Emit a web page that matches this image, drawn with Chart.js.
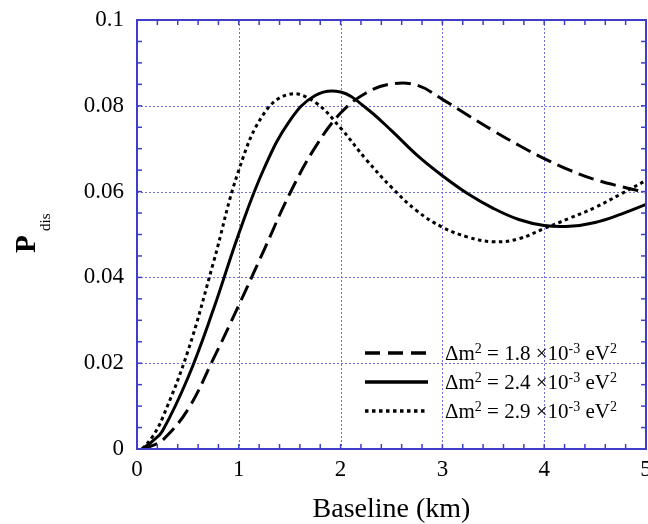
<!DOCTYPE html>
<html>
<head>
<meta charset="utf-8">
<script src="https://cdn.jsdelivr.net/npm/chart.js@4.4.1/dist/chart.umd.min.js"></script>
<style>
  html, body { margin: 0; padding: 0; background: #fff; }
  canvas { display: block; }
</style>
</head>
<body>
<canvas id="cnv" width="648" height="524"></canvas>
<script>
// ---- data ----
const baseline = [0.05, 0.15, 0.25, 0.5, 0.75, 1.0, 1.25, 1.5, 1.75, 2.0, 2.25, 2.5, 2.75, 3.0, 3.25, 3.5, 3.75, 4.0, 4.25, 4.5, 4.75, 5.0];
const pDis18 = [0, 0.0008, 0.002, 0.0092, 0.021, 0.0335, 0.0465, 0.0595, 0.0703, 0.0783, 0.083, 0.0851, 0.0848, 0.0815, 0.0778, 0.0742, 0.0708, 0.0677, 0.065, 0.0628, 0.0612, 0.0598];
const pDis24 = [0, 0.0018, 0.0042, 0.0166, 0.0325, 0.0502, 0.0655, 0.0765, 0.0824, 0.0832, 0.0795, 0.0742, 0.0685, 0.0637, 0.0595, 0.0561, 0.0535, 0.0521, 0.0519, 0.0528, 0.0547, 0.057];
const pDis29 = [0, 0.0028, 0.0072, 0.0228, 0.0434, 0.065, 0.0783, 0.0827, 0.0808, 0.0748, 0.0675, 0.061, 0.0555, 0.0517, 0.0494, 0.0483, 0.049, 0.0514, 0.0538, 0.0563, 0.0594, 0.0626];
const seriesNames = ['1.8', '2.4', '2.9'];
const xTicks = [0, 1, 2, 3, 4, 5];
const yTicks = [0, 0.02, 0.04, 0.06, 0.08, 0.1];

const SERIF = '"Liberation Serif", "DejaVu Serif", serif';
const FRAME = 'rgb(62,62,200)';
const GRID = 'rgb(110,110,225)';
const dashes = [[16, 7], [], [3.5, 3.5]];

const toPts = ys => baseline.map((x, i) => ({ x, y: ys[i] }));

const datasets = [pDis18, pDis24, pDis29].map((ys, i) => ({
  label: seriesNames[i],
  data: toPts(ys),
  borderColor: '#000',
  borderWidth: 3,
  borderDash: dashes[i],
  pointRadius: 0,
  fill: false,
  tension: 0.4
}));

// ---- frame, grid, minor ticks, titles, legend ----
const decor = {
  id: 'decor',
  beforeDatasetsDraw(chart) {
    const { ctx, chartArea: a, scales: { x, y } } = chart;
    ctx.save();
    ctx.strokeStyle = GRID; ctx.lineWidth = 1; ctx.setLineDash([2, 2]);
    xTicks.slice(1, -1).forEach(v => {
      const px = Math.round(x.getPixelForValue(v)) + 0.5;
      ctx.beginPath(); ctx.moveTo(px, a.top); ctx.lineTo(px, a.bottom); ctx.stroke();
    });
    yTicks.slice(1, -1).forEach(v => {
      const py = Math.round(y.getPixelForValue(v)) + 0.5;
      ctx.beginPath(); ctx.moveTo(a.left, py); ctx.lineTo(a.right, py); ctx.stroke();
    });
    ctx.restore();
  },
  afterDraw(chart) {
    const { ctx, chartArea: a, scales: { x, y } } = chart;
    ctx.save();
    // minor ticks, all four sides, pointing inward
    ctx.strokeStyle = FRAME; ctx.lineWidth = 1.5;
    for (let v = 0.2; v < 5; v += 0.2) {
      const px = x.getPixelForValue(v);
      ctx.beginPath(); ctx.moveTo(px, a.bottom); ctx.lineTo(px, a.bottom - 5); ctx.stroke();
      ctx.beginPath(); ctx.moveTo(px, a.top); ctx.lineTo(px, a.top + 5); ctx.stroke();
    }
    for (let v = 0.005; v < 0.1; v += 0.005) {
      const py = y.getPixelForValue(v);
      ctx.beginPath(); ctx.moveTo(a.left, py); ctx.lineTo(a.left + 5, py); ctx.stroke();
      ctx.beginPath(); ctx.moveTo(a.right, py); ctx.lineTo(a.right - 5, py); ctx.stroke();
    }
    // frame
    ctx.lineWidth = 2;
    ctx.strokeRect(a.left, a.top, a.right - a.left, a.bottom - a.top);

    // axis titles
    ctx.fillStyle = '#000';
    ctx.textAlign = 'center'; ctx.textBaseline = 'alphabetic';
    ctx.font = '28px ' + SERIF;
    ctx.fillText('Baseline (km)', (a.left + a.right) / 2, 517);

    ctx.save();
    ctx.translate(35, 253);
    ctx.rotate(-Math.PI / 2);
    ctx.textAlign = 'left';
    ctx.font = 'bold 29px ' + SERIF;
    ctx.fillText('P', 0, 0);
    ctx.font = '15px ' + SERIF;
    ctx.fillText('dis', 22, 15);
    ctx.restore();

    // legend
    const rows = [353, 382, 411];
    rows.forEach((ly, i) => {
      ctx.strokeStyle = '#000'; ctx.lineWidth = 3.5;
      ctx.setLineDash(i === 0 ? [15, 8] : i === 2 ? [3.5, 3.5] : []);
      ctx.beginPath(); ctx.moveTo(365, ly); ctx.lineTo(428, ly); ctx.stroke();
      ctx.setLineDash([]);
      let tx = 445;
      const base = ly + 7;
      const parts = [
        ['\u0394m', false], ['2', true], [' = ' + seriesNames[i] + ' \u00d710', false],
        ['-3', true], [' eV', false], ['2', true]
      ];
      ctx.textAlign = 'left';
      parts.forEach(([t, sup]) => {
        ctx.font = (sup ? '14px ' : '21px ') + SERIF;
        ctx.fillText(t, tx, sup ? base - 7 : base);
        tx += ctx.measureText(t).width;
      });
    });
    ctx.restore();
  }
};

new Chart('cnv', {
  type: 'line',
  data: { datasets },
  options: {
    responsive: false,
    animation: false,
    layout: { padding: { top: 20, right: 2, left: 0, bottom: 0 } },
    plugins: { legend: { display: false }, tooltip: { enabled: false } },
    scales: {
      x: {
        type: 'linear', min: 0, max: 5,
        grid: { display: false, drawTicks: false },
        border: { display: false },
        afterBuildTicks: s => { s.ticks = xTicks.map(v => ({ value: v })); },
        afterFit: s => { s.height = 75; s.paddingLeft = 0; s.paddingRight = 0; },
        ticks: { color: '#000', padding: 7, font: { family: SERIF, size: 23 }, maxRotation: 0, callback: v => String(v) }
      },
      y: {
        type: 'linear', min: 0, max: 0.1,
        grid: { display: false, drawTicks: false },
        border: { display: false },
        afterBuildTicks: s => { s.ticks = yTicks.map(v => ({ value: v })); },
        afterFit: s => { s.width = 137; s.paddingTop = 0; s.paddingBottom = 0; },
        ticks: { color: '#000', padding: 13, font: { family: SERIF, size: 23 }, callback: v => v === 0 ? '0' : String(+v.toFixed(2)) }
      }
    }
  },
  plugins: [decor]
});
</script>
</body>
</html>
